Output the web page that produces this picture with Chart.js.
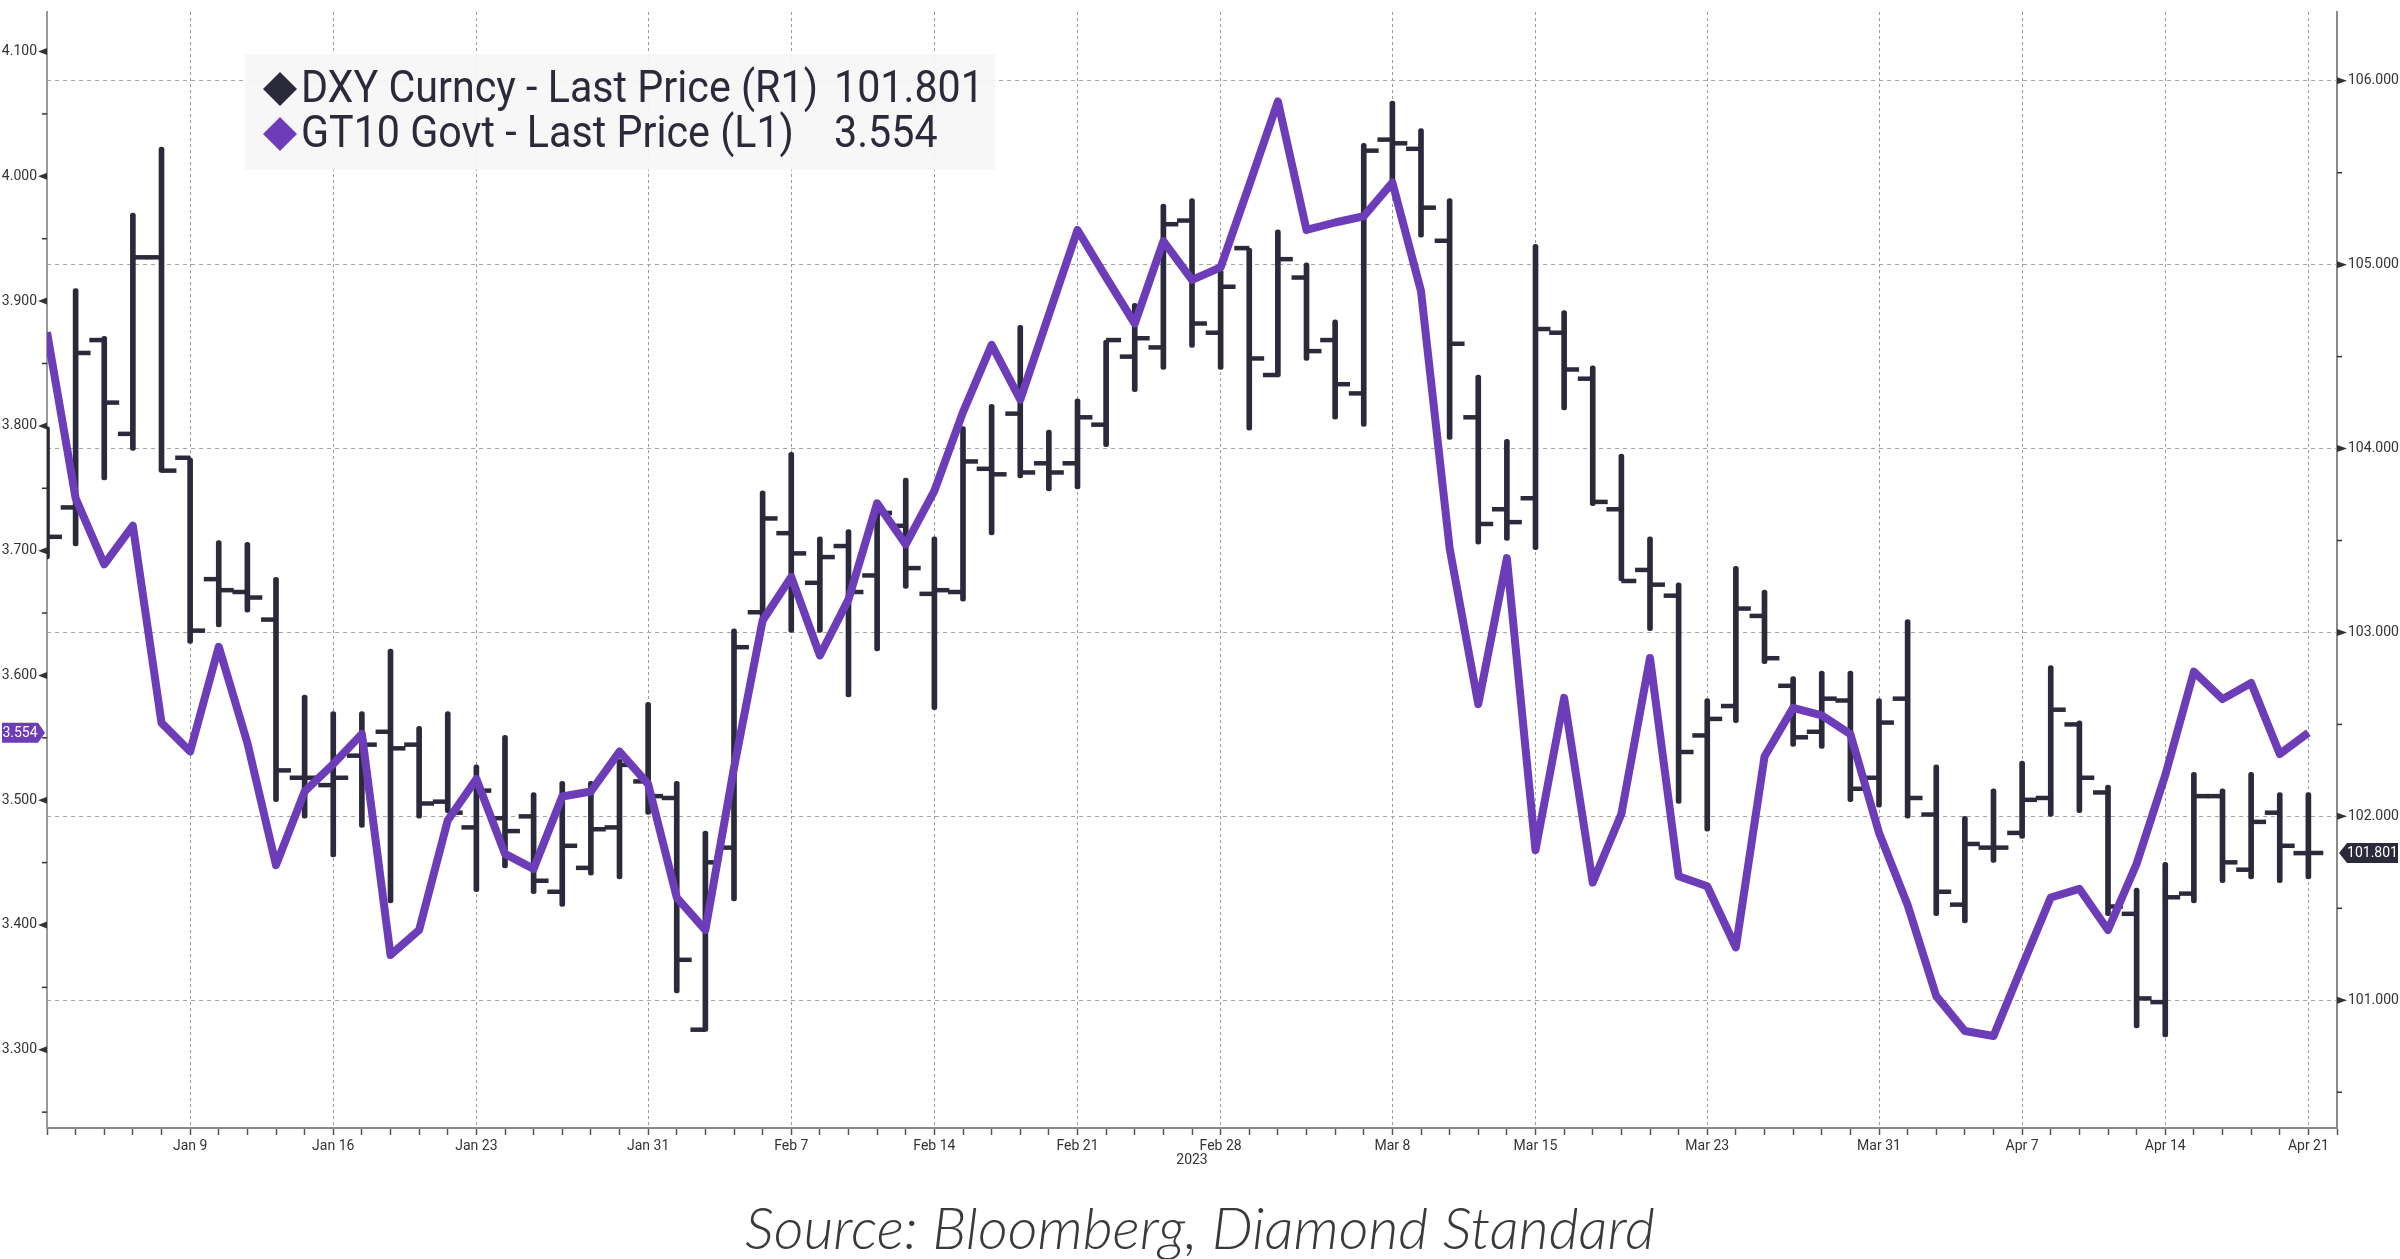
<!DOCTYPE html>
<html>
<head>
<meta charset="utf-8">
<script src="https://cdn.jsdelivr.net/npm/chart.js@4.4.0/dist/chart.umd.min.js"></script>
<style>
  html, body { margin: 0; padding: 0; background: #fff; }
  #wrap { position: relative; width: 2400px; height: 1259px; }
  #source {
    position: absolute; left: 0; top: 1192px; width: 2400px;
    text-align: center; color: #3a3a3a; line-height: 58px;
    font: italic 300 58px Lato, "Open Sans", sans-serif;
  }
</style>
</head>
<body>
<div id="wrap">
  <canvas id="chart" width="2400" height="1180"></canvas>
  <div id="source">Source: Bloomberg, Diamond Standard</div>
</div>
<script>
// weekday index 0 = Jan 2 2023 ... 79 = Apr 21 2023
var tickIdx = [5, 10, 15, 21, 26, 31, 36, 41, 47, 52, 58, 64, 69, 74, 79];
var tickText = ["Jan 9", "Jan 16", "Jan 23", "Jan 31", "Feb 7", "Feb 14", "Feb 21", "Feb 28",
  "Mar 8", "Mar 15", "Mar 23", "Mar 31", "Apr 7", "Apr 14", "Apr 21"];

var leftTicks = [3.3, 3.4, 3.5, 3.6, 3.7, 3.8, 3.9, 4.0, 4.1];
var rightTicks = [101, 102, 103, 104, 105, 106];

// DXY Curncy daily bars
var dxyOpen = [103.52, 103.68, 104.59, 104.08, 105.04, 103.95, 103.29, 103.22, 103.07, 102.21,
  102.17, 102.33, 102.46, 102.39, 102.08, 101.94, 101.99, 102.00, 101.59, 101.72,
  101.94, 102.19, 102.10, 100.84, 101.83, 103.11, 103.54, 103.27, 103.47, 103.31,
  103.58, 103.21, 103.22, 103.89, 104.19, 103.92, 103.92, 104.13, 104.50, 104.55,
  105.24, 104.63, 105.09, 104.40, 104.93, 104.59, 104.30, 105.68, 105.63, 105.13,
  104.17, 103.67, 103.73, 104.63, 104.38, 103.67, 103.34, 103.20, 102.44, 102.60,
  103.09, 102.71, 102.46, 102.63, 102.21, 102.64, 102.01, 101.52, 101.83, 101.91,
  102.10, 102.50, 102.13, 101.47, 100.99, 101.58, 102.11, 101.71, 102.02, 101.80];
var dxyHigh = [104.12, 104.87, 104.61, 105.28, 105.64, 103.95, 103.50, 103.49, 103.30, 102.66,
  102.57, 102.57, 102.91, 102.49, 102.57, 102.28, 102.44, 102.13, 102.19, 102.19,
  102.31, 102.62, 102.19, 101.92, 103.02, 103.77, 103.98, 103.52, 103.56, 103.69,
  103.84, 103.52, 104.12, 104.24, 104.67, 104.10, 104.27, 104.59, 104.79, 105.33,
  105.36, 104.97, 105.09, 105.19, 105.01, 104.70, 105.66, 105.89, 105.74, 105.36,
  104.40, 104.05, 105.11, 104.75, 104.45, 103.97, 103.52, 103.27, 102.64, 103.36,
  103.23, 102.76, 102.79, 102.79, 102.64, 103.07, 102.28, 102.00, 102.15, 102.30,
  102.82, 102.52, 102.17, 101.61, 101.75, 102.24, 102.15, 102.24, 102.13, 102.13];
var dxyLow = [103.40, 103.47, 103.83, 103.99, 103.87, 102.94, 103.03, 103.11, 102.08, 101.99,
  101.78, 101.94, 101.53, 101.99, 102.02, 101.59, 101.72, 101.58, 101.51, 101.68,
  101.66, 102.01, 101.04, 100.83, 101.54, 103.06, 103.00, 103.00, 102.65, 102.90,
  103.24, 102.58, 103.17, 103.53, 103.84, 103.77, 103.78, 104.01, 104.31, 104.43,
  104.55, 104.43, 104.10, 104.39, 104.48, 104.16, 104.12, 105.40, 105.15, 104.05,
  103.48, 103.50, 103.45, 104.21, 103.69, 103.28, 103.01, 102.07, 101.92, 102.51,
  102.83, 102.38, 102.37, 102.08, 102.05, 101.99, 101.46, 101.42, 101.75, 101.88,
  102.00, 102.02, 101.46, 100.85, 100.80, 101.53, 101.64, 101.66, 101.64, 101.66];
var dxyClose = [103.52, 104.52, 104.25, 105.04, 103.88, 103.01, 103.23, 103.19, 102.25, 102.21,
  102.21, 102.39, 102.37, 102.07, 102.02, 102.14, 101.92, 101.65, 101.84, 101.93,
  102.28, 102.11, 101.22, 101.75, 102.92, 103.62, 103.43, 103.41, 103.22, 103.65,
  103.35, 103.23, 103.93, 103.86, 103.87, 103.87, 104.17, 104.59, 104.60, 105.22,
  104.68, 104.88, 104.49, 105.03, 104.53, 104.35, 105.62, 105.66, 105.31, 104.57,
  103.59, 103.60, 104.65, 104.43, 103.71, 103.28, 103.26, 102.35, 102.53, 103.13,
  102.86, 102.43, 102.64, 102.15, 102.51, 102.10, 101.59, 101.85, 101.83, 102.09,
  102.58, 102.21, 101.51, 101.01, 101.56, 102.11, 101.75, 101.97, 101.84, 101.801];

// GT10 Govt yield
var gt10 = [3.875, 3.742, 3.689, 3.720, 3.562, 3.539, 3.623, 3.546, 3.448, 3.507,
  3.529, 3.553, 3.376, 3.396, 3.484, 3.517, 3.457, 3.445, 3.503, 3.507,
  3.539, 3.513, 3.422, 3.396, 3.526, 3.644, 3.679, 3.616, 3.661, 3.738,
  3.705, 3.748, 3.811, 3.865, 3.821, 3.889, 3.957, 3.919, 3.882, 3.948,
  3.917, 3.927, 3.993, 4.060, 3.957, 3.963, 3.968, 3.995, 3.908, 3.702,
  3.577, 3.694, 3.460, 3.582, 3.434, 3.489, 3.614, 3.439, 3.431, 3.382,
  3.535, 3.574, 3.568, 3.553, 3.474, 3.416, 3.343, 3.315, 3.311, 3.367,
  3.422, 3.429, 3.396, 3.449, 3.520, 3.603, 3.581, 3.594, 3.537, 3.554];

var FONT = "Roboto, sans-serif";
var INK = "#2b2a3b";
var PURPLE = "#6d3cb9";
var last = gt10.length - 1;

var decor = {
  id: "decor",
  afterDraw: function (chart) {
    var ctx = chart.ctx, a = chart.chartArea;
    var yL = chart.scales.yL, yR = chart.scales.yR, x = chart.scales.x;
    ctx.save();
    ctx.fillStyle = "#333";
    ctx.strokeStyle = "#333";
    ctx.lineWidth = 1.5;
    // axis markers
    leftTicks.forEach(function (v) {
      var y = yL.getPixelForValue(v);
      ctx.beginPath();
      ctx.moveTo(a.left - 9, y);
      ctx.lineTo(a.left, y - 3.5);
      ctx.lineTo(a.left, y + 3.5);
      ctx.closePath();
      ctx.fill();
      var ym = yL.getPixelForValue(v - 0.05);
      ctx.beginPath();
      ctx.moveTo(a.left - 5, ym);
      ctx.lineTo(a.left, ym);
      ctx.stroke();
    });
    rightTicks.forEach(function (v) {
      var y = yR.getPixelForValue(v);
      ctx.beginPath();
      ctx.moveTo(a.right + 10, y);
      ctx.lineTo(a.right, y - 3.5);
      ctx.lineTo(a.right, y + 3.5);
      ctx.closePath();
      ctx.fill();
      var ym = yR.getPixelForValue(v - 0.5);
      ctx.beginPath();
      ctx.moveTo(a.right, ym);
      ctx.lineTo(a.right + 5, ym);
      ctx.stroke();
    });

    // last value tags
    ctx.font = "14px " + FONT;
    ctx.textBaseline = "middle";
    ctx.textAlign = "center";
    var yl = yL.getPixelForValue(gt10[last]);
    ctx.fillStyle = PURPLE;
    ctx.beginPath();
    ctx.moveTo(2, yl - 10);
    ctx.lineTo(a.left - 9, yl - 10);
    ctx.lineTo(a.left - 2, yl);
    ctx.lineTo(a.left - 9, yl + 10);
    ctx.lineTo(2, yl + 10);
    ctx.closePath();
    ctx.fill();
    ctx.fillStyle = "#fff";
    ctx.fillText(gt10[last].toFixed(3), (2 + a.left - 9) / 2, yl + 1);

    var yr = yR.getPixelForValue(dxyClose[last]);
    ctx.fillStyle = INK;
    ctx.beginPath();
    ctx.moveTo(a.right + 2, yr);
    ctx.lineTo(a.right + 10, yr - 10);
    ctx.lineTo(2398, yr - 10);
    ctx.lineTo(2398, yr + 10);
    ctx.lineTo(a.right + 10, yr + 10);
    ctx.closePath();
    ctx.fill();
    ctx.fillStyle = "#fff";
    ctx.fillText(dxyClose[last].toFixed(3), (a.right + 10 + 2398) / 2, yr + 1);

    // year under the date axis
    ctx.fillStyle = "#333";
    ctx.font = "14px " + FONT;
    ctx.fillText("2023", x.getPixelForValue(40), 1160);

    // legend
    ctx.fillStyle = "rgba(246,246,247,0.92)";
    ctx.fillRect(245, 54, 750, 116);
    var rows = [
      { color: INK, text: "DXY Curncy - Last Price (R1)", value: dxyClose[last].toFixed(3), y: 89 },
      { color: PURPLE, text: "GT10 Govt - Last Price (L1)", value: gt10[last].toFixed(3), y: 134 }
    ];
    ctx.font = "45px " + FONT;
    ctx.textAlign = "left";
    var sx = 517 / ctx.measureText(rows[0].text).width;
    rows.forEach(function (r) {
      ctx.fillStyle = r.color;
      ctx.beginPath();
      ctx.moveTo(280, r.y - 17);
      ctx.lineTo(297, r.y);
      ctx.lineTo(280, r.y + 17);
      ctx.lineTo(263, r.y);
      ctx.closePath();
      ctx.fill();
      ctx.fillStyle = INK;
      ctx.save();
      ctx.translate(301, r.y + 2);
      ctx.scale(sx, 1);
      ctx.fillText(r.text, 0, 0);
      ctx.fillText(r.value, (834 - 301) / sx, 0);
      ctx.restore();
    });
    ctx.restore();
  }
};

var allIdx = [];
for (var i = 0; i <= 80; i++) allIdx.push(i);

new Chart(document.getElementById("chart"), {
  type: "bar",
  data: {
    datasets: [
      {
        type: "line",
        label: "GT10 Govt",
        data: gt10.map(function (v, i) { return { x: i, y: v }; }),
        yAxisID: "yL",
        borderColor: PURPLE,
        borderWidth: 8,
        borderJoinStyle: "round",
        pointRadius: 0,
        tension: 0,
        order: 0
      },
      {
        type: "scatter",
        label: "open",
        data: dxyOpen.map(function (v, i) { return { x: i - 0.26, y: v }; }),
        yAxisID: "yR",
        pointStyle: "line",
        pointRadius: 7.5,
        pointBorderWidth: 4.5,
        borderColor: INK,
        backgroundColor: INK,
        order: 1
      },
      {
        type: "scatter",
        label: "close",
        data: dxyClose.map(function (v, i) { return { x: i + 0.26, y: v }; }),
        yAxisID: "yR",
        pointStyle: "line",
        pointRadius: 7.5,
        pointBorderWidth: 4.5,
        borderColor: INK,
        backgroundColor: INK,
        order: 1
      },
      {
        type: "bar",
        label: "DXY Curncy",
        data: dxyHigh.map(function (h, i) { return { x: i, y: [dxyLow[i], h] }; }),
        yAxisID: "yR",
        backgroundColor: INK,
        barThickness: 5,
        borderRadius: 2.5,
        borderSkipped: false,
        order: 2
      }
    ]
  },
  options: {
    responsive: false,
    devicePixelRatio: 1,
    animation: false,
    events: [],
    layout: { padding: 0 },
    plugins: { legend: { display: false }, tooltip: { enabled: false } },
    scales: {
      x: {
        type: "linear",
        min: 0,
        max: 80,
        offset: false,
        afterBuildTicks: function (s) { s.ticks = allIdx.map(function (v) { return { value: v }; }); },
        afterFit: function (s) { s.height = 52; s.paddingLeft = 0; s.paddingRight = 0; },
        ticks: {
          autoSkip: false,
          maxRotation: 0,
          padding: 3,
          color: "#333",
          font: { size: 14, family: FONT },
          callback: function (v) {
            var k = tickIdx.indexOf(v);
            return k >= 0 ? tickText[k] : "";
          }
        },
        grid: {
          offset: false,
          lineWidth: 1,
          color: function (c) {
            return c.tick && tickIdx.indexOf(c.tick.value) >= 0 ? "#9a9a9a" : "rgba(0,0,0,0)";
          },
          tickLength: 7,
          tickColor: "#555",
          tickWidth: 1.5
        },
        border: { display: true, color: "#8a8a8a", width: 2, dash: [3, 3] }
      },
      yL: {
        type: "linear",
        position: "left",
        min: 3.2373,
        max: 4.1317,
        afterBuildTicks: function (s) { s.ticks = leftTicks.map(function (v) { return { value: v }; }); },
        afterFit: function (s) { s.width = 47; s.paddingTop = 0; s.paddingBottom = 0; },
        ticks: {
          padding: 10,
          color: "#333",
          font: { size: 14, family: FONT },
          callback: function (v) { return v.toFixed(3); }
        },
        grid: { drawOnChartArea: false, drawTicks: false },
        border: { display: true, color: "#9a9a9a", width: 2 }
      },
      yR: {
        type: "linear",
        position: "right",
        min: 100.3054,
        max: 106.374,
        afterBuildTicks: function (s) { s.ticks = rightTicks.map(function (v) { return { value: v }; }); },
        afterFit: function (s) { s.width = 63; s.paddingTop = 0; s.paddingBottom = 0; },
        ticks: {
          padding: 11,
          color: "#333",
          font: { size: 14, family: FONT },
          callback: function (v) { return v.toFixed(3); }
        },
        grid: { drawOnChartArea: true, drawTicks: false, color: "#a3a3a3", lineWidth: 1 },
        border: { display: true, color: "#8a8a8a", width: 2, dash: [4, 4] }
      }
    }
  },
  plugins: [decor]
});
</script>
</body>
</html>
